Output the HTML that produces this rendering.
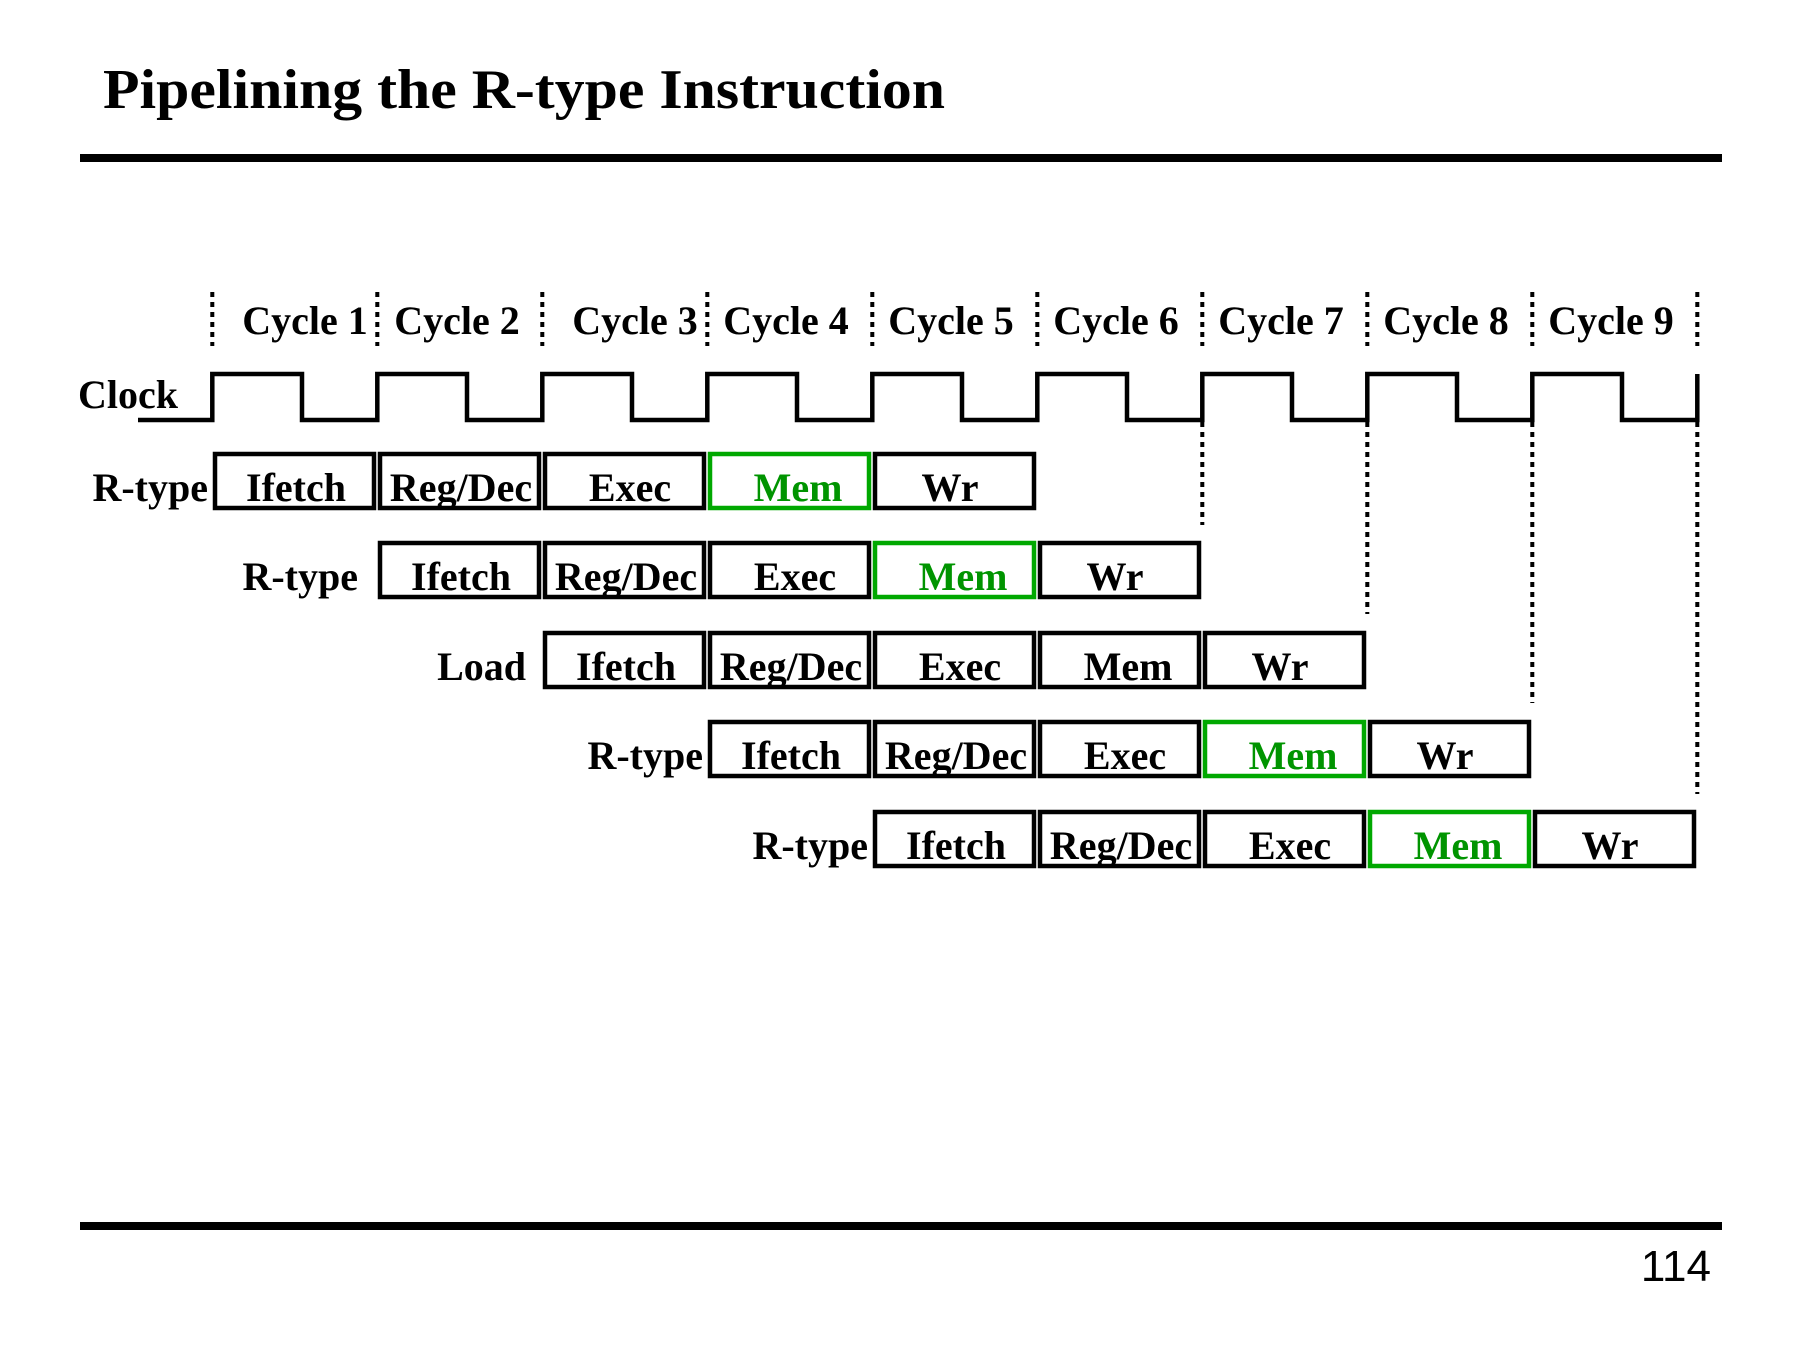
<!DOCTYPE html>
<html><head><meta charset="utf-8"><style>
html,body{margin:0;padding:0;background:#fff;}
svg{display:block;}
text{font-family:"Liberation Serif",serif;font-weight:bold;}
</style></head><body>
<svg width="1800" height="1350" viewBox="0 0 1800 1350" xmlns="http://www.w3.org/2000/svg">
<text x="103" y="108" font-size="56" textLength="842" lengthAdjust="spacingAndGlyphs">Pipelining the R-type Instruction</text>
<rect x="80" y="154" width="1642" height="8" fill="#000"/>
<rect x="80" y="1222" width="1642" height="8" fill="#000"/>
<text x="1711" y="1281" font-size="44" text-anchor="end" style="font-family:'Liberation Sans',sans-serif;font-weight:normal">114</text>

<g stroke="#000" stroke-width="4" stroke-dasharray="5,5" fill="none">
<line x1="212.3" y1="292" x2="212.3" y2="346"/>
<line x1="377.3" y1="292" x2="377.3" y2="346"/>
<line x1="542.3" y1="292" x2="542.3" y2="346"/>
<line x1="707.3" y1="292" x2="707.3" y2="346"/>
<line x1="872.3" y1="292" x2="872.3" y2="346"/>
<line x1="1037.3" y1="292" x2="1037.3" y2="346"/>
<line x1="1202.3" y1="292" x2="1202.3" y2="346"/>
<line x1="1367.3" y1="292" x2="1367.3" y2="346"/>
<line x1="1532.3" y1="292" x2="1532.3" y2="346"/>
<line x1="1697.3" y1="292" x2="1697.3" y2="346"/>
<line x1="1202.3" y1="422" x2="1202.3" y2="525"/>
<line x1="1367.3" y1="422" x2="1367.3" y2="614"/>
<line x1="1532.3" y1="422" x2="1532.3" y2="703"/>
<line x1="1697.3" y1="422" x2="1697.3" y2="794"/>
</g>

<g font-size="40" text-anchor="middle">
<text x="305" y="334">Cycle 1</text>
<text x="457" y="334">Cycle 2</text>
<text x="635" y="334">Cycle 3</text>
<text x="786" y="334">Cycle 4</text>
<text x="951" y="334">Cycle 5</text>
<text x="1116" y="334">Cycle 6</text>
<text x="1281" y="334">Cycle 7</text>
<text x="1446" y="334">Cycle 8</text>
<text x="1611" y="334">Cycle 9</text>
</g>

<text x="78" y="408" font-size="40">Clock</text>
<polyline fill="none" stroke="#000" stroke-width="4.5" points="138,420 212.3,420 212.3,374 302,374 302,420 377.3,420 377.3,374 467,374 467,420 542.3,420 542.3,374 632,374 632,420 707.3,420 707.3,374 797,374 797,420 872.3,420 872.3,374 962,374 962,420 1037.3,420 1037.3,374 1127,374 1127,420 1202.3,420 1202.3,374 1292,374 1292,420 1367.3,420 1367.3,374 1457,374 1457,420 1532.3,420 1532.3,374 1622,374 1622,420 1697.3,420 1697.3,374"/>

<g font-size="40" text-anchor="end">
<text x="208" y="501">R-type</text>
<text x="358" y="590">R-type</text>
<text x="526" y="680">Load</text>
<text x="703" y="769">R-type</text>
<text x="868" y="859">R-type</text>
</g>

<g fill="none" stroke-width="4.5">
<g stroke="#000">
<rect x="215" y="454" width="159" height="54"/><rect x="380" y="454" width="159" height="54"/><rect x="545" y="454" width="159" height="54"/><rect x="875" y="454" width="159" height="54"/>
<rect x="380" y="543" width="159" height="54"/><rect x="545" y="543" width="159" height="54"/><rect x="710" y="543" width="159" height="54"/><rect x="1040" y="543" width="159" height="54"/>
<rect x="545" y="633" width="159" height="54"/><rect x="710" y="633" width="159" height="54"/><rect x="875" y="633" width="159" height="54"/><rect x="1040" y="633" width="159" height="54"/><rect x="1205" y="633" width="159" height="54"/>
<rect x="710" y="722" width="159" height="54"/><rect x="875" y="722" width="159" height="54"/><rect x="1040" y="722" width="159" height="54"/><rect x="1370" y="722" width="159" height="54"/>
<rect x="875" y="812" width="159" height="54"/><rect x="1040" y="812" width="159" height="54"/><rect x="1205" y="812" width="159" height="54"/><rect x="1535" y="812" width="159" height="54"/>
</g>
<g stroke="#00a800">
<rect x="710" y="454" width="159" height="54"/>
<rect x="875" y="543" width="159" height="54"/>
<rect x="1205" y="722" width="159" height="54"/>
<rect x="1370" y="812" width="159" height="54"/>
</g>
</g>

<g font-size="40" text-anchor="middle">
<text x="296" y="501">Ifetch</text><text x="461" y="501">Reg/Dec</text><text x="630" y="501">Exec</text><text x="798" y="501" fill="#009400">Mem</text><text x="950" y="501">Wr</text>
<text x="461" y="590">Ifetch</text><text x="626" y="590">Reg/Dec</text><text x="795" y="590">Exec</text><text x="963" y="590" fill="#009400">Mem</text><text x="1115" y="590">Wr</text>
<text x="626" y="680">Ifetch</text><text x="791" y="680">Reg/Dec</text><text x="960" y="680">Exec</text><text x="1128" y="680">Mem</text><text x="1280" y="680">Wr</text>
<text x="791" y="769">Ifetch</text><text x="956" y="769">Reg/Dec</text><text x="1125" y="769">Exec</text><text x="1293" y="769" fill="#009400">Mem</text><text x="1445" y="769">Wr</text>
<text x="956" y="859">Ifetch</text><text x="1121" y="859">Reg/Dec</text><text x="1290" y="859">Exec</text><text x="1458" y="859" fill="#009400">Mem</text><text x="1610" y="859">Wr</text>
</g>
</svg>
</body></html>
